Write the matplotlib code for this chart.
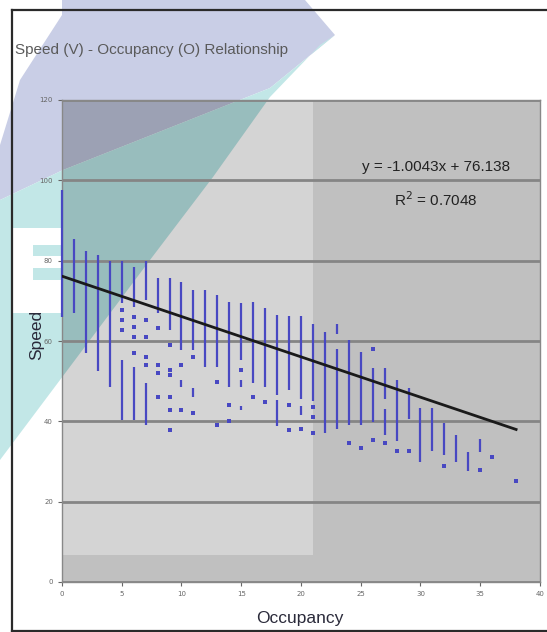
import matplotlib
matplotlib.use("Agg")
import matplotlib.pyplot as plt
from matplotlib.patches import Polygon
from matplotlib.lines import Line2D

# Datos: tramos continuos de puntos por ocupacion
seg_occ = [0, 1, 2, 3, 4, 5, 5, 6, 6, 7, 7, 8, 9, 10, 10, 11, 11, 12, 13, 14,
           15, 15, 15, 16, 17, 18, 18, 19, 20, 20, 21, 22, 23, 23, 24, 25, 26,
           27, 27, 28, 29, 30, 31, 32, 33, 34, 35]
seg_hi = [97.5, 85.5, 82.5, 81.5, 79.8, 79.8, 55.3, 78.5, 53.6, 79.8, 49.5, 75.6,
          75.6, 74.7, 50.3, 72.6, 48.4, 72.6, 71.4, 69.7, 69.5, 50.3, 43.8, 69.7,
          68.2, 66.4, 45.3, 66.3, 66.3, 43.9, 64.2, 62.2, 64.2, 58.1, 60.2, 57.3,
          53.3, 53.3, 43.0, 50.4, 48.4, 43.3, 43.3, 39.5, 36.5, 32.3, 35.5]
seg_lo = [66.0, 67.0, 57.0, 52.5, 48.5, 69.4, 40.3, 68.5, 40.3, 70.2, 39.0, 67.0,
          62.7, 57.7, 48.6, 57.7, 46.0, 53.5, 53.5, 48.6, 55.3, 48.6, 42.8, 49.6,
          48.6, 46.5, 38.8, 47.9, 45.5, 41.5, 45.1, 37.0, 61.8, 38.2, 39.0, 39.0,
          39.8, 45.5, 36.6, 35.0, 40.7, 30.0, 32.5, 31.5, 29.8, 27.6, 32.3]

# Puntos aislados
dot_occ = [5, 5, 5, 6, 6, 6, 6, 7, 7, 7, 7, 8, 8, 8, 8, 9, 9, 9, 9, 9, 9,
           10, 10, 11, 11, 13, 13, 14, 14, 15, 16, 17, 19, 19, 20, 21, 21, 21,
           24, 25, 26, 26, 27, 28, 29, 32, 35, 36, 38]
dot_speed = [67.7, 65.2, 62.7, 66.0, 63.6, 61.0, 57.0, 65.2, 61.0, 56.0, 54.0,
             63.2, 54.0, 52.0, 46.0, 59.0, 52.8, 51.5, 46.0, 42.8, 37.8,
             54.0, 42.8, 56.0, 42.0, 49.9, 39.1, 44.0, 40.0, 52.8, 46.1, 44.9,
             44.0, 37.9, 38.2, 43.5, 41.0, 37.0, 34.6, 33.3, 58.1, 35.4, 34.6,
             32.5, 32.5, 28.8, 28.0, 31.0, 25.2]

# Linea de tendencia
pendiente = -1.0043
intercepto = 76.138
x_tend = [0, 38]

x_ticks = [0, 5, 10, 15, 20, 25, 30, 35, 40]
y_ticks = [0, 20, 40, 60, 80, 100, 120]

W, H = 547, 632


def fig_xy(pts):
    # pixeles (desde arriba a la izquierda) a fraccion de figura
    return [(x / W, 1 - y / H) for x, y in pts]


lavanda = [(62, 0), (305, 0), (335, 35), (270, 88), (63, 170), (0, 200),
           (0, 145), (20, 80), (62, 15)]
turquesa = [(335, 35), (270, 88), (63, 170), (0, 200), (0, 460), (150, 260),
            (213, 177), (270, 97), (320, 45)]

fig = plt.figure(figsize=(W / 100, H / 100), dpi=100)
fig.patch.set_facecolor("white")

# formas de fondo fuera del grafico
fig.add_artist(Polygon(fig_xy(lavanda), closed=True, transform=fig.transFigure,
                       facecolor="#c9cee6", edgecolor="none", zorder=0))
fig.add_artist(Polygon(fig_xy(turquesa), closed=True, transform=fig.transFigure,
                       facecolor="#c2e7e7", edgecolor="none", zorder=0))
fig.add_artist(Polygon(fig_xy([(13, 228), (62, 228), (62, 313), (13, 313)]),
                       closed=True, transform=fig.transFigure,
                       facecolor="white", edgecolor="none", zorder=0))
for y0, y1 in [(245, 256), (268, 280)]:
    fig.add_artist(Polygon(fig_xy([(33, y0), (62, y0), (62, y1), (33, y1)]),
                           closed=True, transform=fig.transFigure,
                           facecolor="#c2e7e7", edgecolor="none", zorder=0))

# marco exterior
for pts in [[(12, 10), (547, 10)], [(12, 10), (12, 631)], [(12, 631), (547, 631)]]:
    (xa, ya), (xb, yb) = fig_xy(pts)
    fig.add_artist(Line2D([xa, xb], [ya, yb], transform=fig.transFigure,
                          color="#2a2a2a", lw=1.6, zorder=1))

ax = fig.add_axes([62 / W, 1 - 582 / H, 478 / W, 482 / H])
ax.set_facecolor("#c0c0c0")

# zonas sombreadas dentro del grafico
dentro = [
    (fig_xy([(62, 100), (313, 100), (313, 555), (62, 555)]), "#d4d4d4"),
    (fig_xy(lavanda), "#9ca1b4"),
    (fig_xy(turquesa), "#98bdbd"),
]
for pts, color in dentro:
    p = Polygon(pts, closed=True, transform=fig.transFigure,
                facecolor=color, edgecolor="none", zorder=0.2)
    ax.add_patch(p)
    p.set_clip_path(ax.patch)

# datos
ax.vlines(seg_occ, seg_lo, seg_hi, color="#4848c2", lw=1.6, zorder=3,
          clip_on=False)
ax.scatter(dot_occ, dot_speed, marker="s", s=6, color="#4848c2",
           linewidths=0, zorder=3)
y_tend = [pendiente * x + intercepto for x in x_tend]
ax.plot(x_tend, y_tend, color="#1a1a1a", lw=2.0, zorder=4)

ax.set_xlim(0, 40)
ax.set_ylim(0, 120)
ax.set_xticks(x_ticks)
ax.set_yticks(y_ticks)
ax.tick_params(labelsize=5, colors="#666666", length=3, width=0.8)
ax.set_axisbelow(True)
ax.yaxis.grid(True, color="#858585", lw=2.0)
for s in ax.spines.values():
    s.set_color("#888888")
    s.set_linewidth(1.0)

fuente = ["Liberation Sans Narrow", "Liberation Sans", "DejaVu Sans"]

fig.text(15 / W, 1 - 50 / H, "Speed (V) - Occupancy (O) Relationship",
         family=fuente, fontsize=11, color="#5a5a5a", va="center", ha="left")
fig.text(37 / W, 1 - 335 / H, "Speed", family=fuente, fontsize=12.5,
         color="#2a2a3a", rotation=90, va="center", ha="center")
fig.text(300 / W, 1 - 618 / H, "Occupancy", family=fuente, fontsize=12.5,
         color="#2a2a3a", va="center", ha="center")
fig.text(436 / W, 1 - 167 / H, "y = -1.0043x + 76.138", family=fuente,
         fontsize=11, color="#222222", va="center", ha="center")
fig.text(436 / W, 1 - 200 / H, "R$^2$ = 0.7048", family=fuente,
         fontsize=11, color="#222222", va="center", ha="center")

fig.savefig("out.png", dpi=100)
